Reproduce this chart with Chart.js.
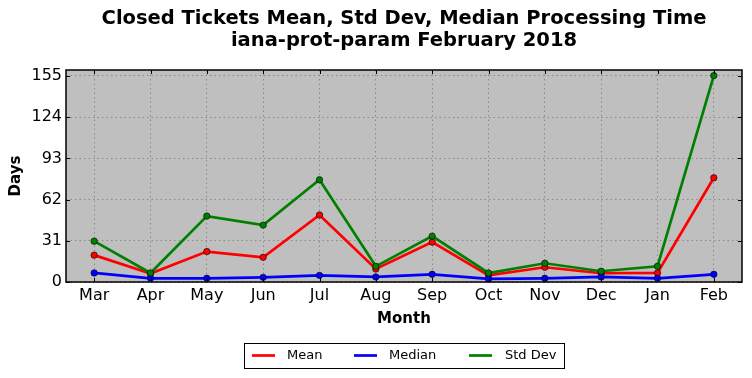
<!DOCTYPE html>
<html>
<head>
<meta charset="utf-8">
<script src="https://cdn.jsdelivr.net/npm/chart.js@4"></script>
<style>
html,body{margin:0;padding:0;background:#fff;}
#wrap{width:752px;height:378px;position:relative;}
</style>
</head>
<body>
<div id="wrap"><canvas id="c" width="752" height="378"></canvas></div>
<script>
const months = ["Mar","Apr","May","Jun","Jul","Aug","Sep","Oct","Nov","Dec","Jan","Feb"];
const meanDays = [20.2, 6.3, 22.9, 18.6, 50.4, 9.8, 30.0, 5.0, 11.1, 6.6, 6.8, 78.4];
const medianDays = [6.8, 2.8, 2.8, 3.5, 5.0, 3.8, 5.8, 2.3, 2.8, 3.8, 2.8, 5.8];
const stdDevDays = [30.7, 6.8, 49.6, 42.8, 76.9, 11.8, 34.5, 6.8, 14.1, 8.1, 11.8, 155.3];
const yTicks = [0, 31, 62, 93, 124, 155];
const titleLines = ["Closed Tickets Mean, Std Dev, Median Processing Time", "iana-prot-param February 2018"];
const legendLabels = ["Mean", "Median", "Std Dev"];
const seriesColors = ["#ff0000", "#0000ff", "#008000"];

const FONT = "'DejaVu Sans', sans-serif";

const decor = {
  id: 'decor',
  beforeDraw(chart) {
    const {ctx, chartArea: a} = chart;
    ctx.save();
    ctx.fillStyle = '#bfbfbf';
    ctx.fillRect(a.left, a.top, a.right - a.left, a.bottom - a.top);
    ctx.restore();
  },
  afterDraw(chart) {
    const {ctx, chartArea: a} = chart;
    ctx.save();
    ctx.strokeStyle = '#000';
    ctx.lineWidth = 1.5;
    ctx.strokeRect(a.left, a.top, a.right - a.left, a.bottom - a.top);
    ctx.lineWidth = 1;
    const xs = chart.scales.x, ys = chart.scales.y;
    months.forEach((m, i) => {
      const px = Math.round(xs.getPixelForValue(i)) + 0.5;
      ctx.beginPath();
      ctx.moveTo(px, a.bottom); ctx.lineTo(px, a.bottom - 4);
      ctx.moveTo(px, a.top); ctx.lineTo(px, a.top + 4);
      ctx.stroke();
    });
    yTicks.forEach(v => {
      const py = Math.round(ys.getPixelForValue(v)) + 0.5;
      ctx.beginPath();
      ctx.moveTo(a.left, py); ctx.lineTo(a.left + 4, py);
      ctx.moveTo(a.right, py); ctx.lineTo(a.right - 4, py);
      ctx.stroke();
    });
    ctx.fillStyle = '#000';
    ctx.font = "bold 19.5px " + FONT;
    ctx.textAlign = 'center';
    ctx.textBaseline = 'middle';
    const cx = (a.left + a.right) / 2;
    ctx.fillText(titleLines[0], cx, 19);
    ctx.fillText(titleLines[1], cx, 41);
    ctx.lineWidth = 1;
    ctx.strokeStyle = '#000';
    ctx.fillStyle = '#fff';
    ctx.fillRect(244.5, 343.5, 320, 25);
    ctx.strokeRect(244.5, 343.5, 320, 25);
    const lineX = [252, 354, 469];
    const textX = [287, 389, 505];
    ctx.font = "13px " + FONT;
    ctx.textAlign = 'left';
    ctx.textBaseline = 'middle';
    legendLabels.forEach((lab, i) => {
      ctx.strokeStyle = seriesColors[i];
      ctx.lineWidth = 2.7;
      ctx.beginPath();
      ctx.moveTo(lineX[i], 355.5); ctx.lineTo(lineX[i] + 23, 355.5);
      ctx.stroke();
      ctx.fillStyle = '#000';
      ctx.fillText(lab, textX[i], 355.5);
    });
    ctx.restore();
  }
};

function ds(label, data, color, order) {
  return {
    label, data, order,
    borderColor: color,
    backgroundColor: color,
    borderWidth: 2.7,
    pointRadius: 3.2,
    pointBorderColor: '#000',
    pointBorderWidth: 0.6,
    pointBackgroundColor: color,
    tension: 0,
    clip: false
  };
}

new Chart(document.getElementById('c'), {
  type: 'line',
  data: {
    labels: months,
    datasets: [
      ds(legendLabels[0], meanDays, seriesColors[0], 3),
      ds(legendLabels[1], medianDays, seriesColors[1], 2),
      ds(legendLabels[2], stdDevDays, seriesColors[2], 1)
    ]
  },
  options: {
    responsive: false,
    animation: false,
    events: [],
    layout: { padding: { top: 70, right: 10, bottom: 50, left: 0 } },
    plugins: { legend: { display: false }, title: { display: false }, tooltip: { enabled: false } },
    scales: {
      x: {
        offset: true,
        grid: { offset: false, color: '#8a8a8a', lineWidth: 1, drawTicks: false },
        border: { display: false, dash: [1.5, 3] },
        ticks: { color: '#000', font: { family: FONT, size: 16 }, padding: 4, maxRotation: 0, autoSkip: false },
        title: { display: true, text: 'Month', color: '#000', font: { family: FONT, size: 15, weight: 'bold' }, padding: 0 },
        afterFit(s) { s.height = 46; }
      },
      y: {
        min: 0, max: 159.5,
        afterBuildTicks(s) { s.ticks = yTicks.map(v => ({ value: v })); },
        grid: { color: '#8a8a8a', lineWidth: 1, drawTicks: false },
        border: { display: false, dash: [1.5, 3] },
        ticks: { color: '#000', font: { family: FONT, size: 16 }, padding: 4 },
        title: { display: true, text: 'Days', color: '#000', font: { family: FONT, size: 15, weight: 'bold' }, padding: { top: 7, bottom: 0 } },
        afterFit(s) { s.width = 66; }
      }
    }
  },
  plugins: [decor]
});
</script>
</body>
</html>
